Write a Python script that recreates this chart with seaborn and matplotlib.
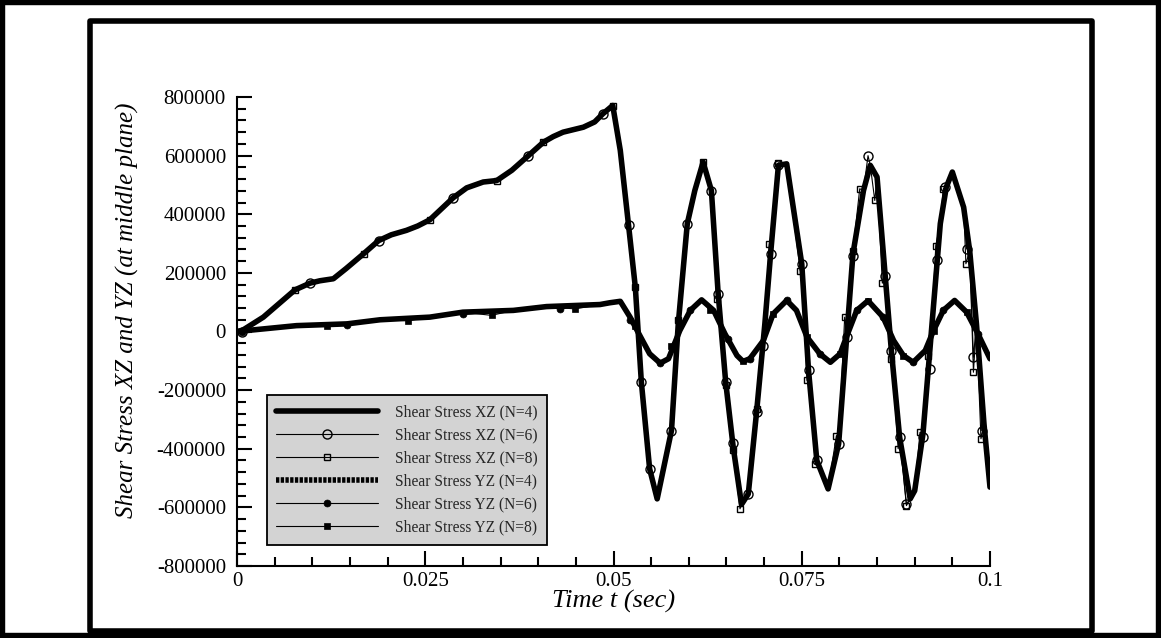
import numpy as np
import matplotlib
matplotlib.use('Agg')
import matplotlib.pyplot as plt
import seaborn as sns
from matplotlib.lines import Line2D
from matplotlib.patches import Rectangle
from matplotlib.ticker import FixedLocator, MultipleLocator

# ---- data ----
xz4_t = [0.0, 0.0006, 0.0035, 0.0077, 0.0097, 0.0110, 0.0128, 0.0145, 0.0168, 0.0188,
         0.0205, 0.0225, 0.0240, 0.0256, 0.0287, 0.0305, 0.0327, 0.0345, 0.0365, 0.0387,
         0.0407, 0.0420, 0.0433, 0.0460, 0.0475, 0.0486, 0.0499,
         0.0509, 0.0520, 0.0529, 0.0537, 0.0548, 0.0558, 0.0577, 0.0586, 0.0598, 0.0608,
         0.0619, 0.0630, 0.0639, 0.0649, 0.0659, 0.0670, 0.0679, 0.0690, 0.0701, 0.0709,
         0.0719, 0.0730, 0.0750, 0.0759, 0.0770, 0.0785, 0.0799, 0.0810, 0.0818, 0.0832,
         0.0841, 0.0850, 0.0861, 0.0869, 0.0880, 0.0894, 0.0900, 0.0911, 0.0923, 0.0934,
         0.0942, 0.0950, 0.0965, 0.0973, 0.0982, 0.0992, 0.1000]
xz4 = [0, 2000, 49000, 142000, 165000, 173000, 180000, 215000, 265000, 310000,
       330000, 345000, 360000, 381000, 456000, 490000, 510000, 515000, 550000, 600000,
       646000, 665000, 680000, 697000, 715000, 743000, 771000,
       618000, 362000, 151000, -173000, -469000, -571000, -338000, 26000, 368000, 481000,
       578000, 481000, 129000, -173000, -395000, -590000, -554000, -275000, 26000, 276000,
       567000, 572000, 231000, -133000, -440000, -537000, -383000, -8000, 265000, 481000,
       567000, 527000, 185000, -65000, -361000, -571000, -543000, -349000, 26000, 368000,
       493000, 544000, 424000, 276000, 26000, -315000, -531000]

# N=6 symbol points (open circles)
xz6_t = [0.0006, 0.0097, 0.0188, 0.0287, 0.0387, 0.0486, 0.0520, 0.0537, 0.0548, 0.0577,
         0.0598, 0.0630, 0.0639, 0.0649, 0.0659, 0.0679, 0.0690, 0.0698, 0.0709, 0.0719,
         0.0750, 0.0759, 0.0770, 0.0799, 0.0810, 0.0818, 0.0838, 0.0861, 0.0869, 0.0880,
         0.0889, 0.0911, 0.0920, 0.0930, 0.0940, 0.0969, 0.0978, 0.0989]
xz6 = [0, 165000, 310000, 456000, 600000, 743000, 362000, -173000, -469000, -338000,
       368000, 481000, 129000, -173000, -382000, -554000, -275000, -48000, 266000, 567000,
       231000, -133000, -440000, -383000, -19000, 256000, 600000, 190000, -65000, -361000,
       -588000, -361000, -127000, 245000, 493000, 282000, -88000, -338000]

# N=8 symbol points (open squares)
xz8_t = [0.0077, 0.0168, 0.0256, 0.0345, 0.0407, 0.0499, 0.0529, 0.0586, 0.0619, 0.0637,
         0.0649, 0.0659, 0.0668, 0.0690, 0.0707, 0.0719, 0.0748, 0.0757, 0.0768, 0.0796,
         0.0807, 0.0818, 0.0827, 0.0847, 0.0857, 0.0868, 0.0878, 0.0889, 0.0907, 0.0918,
         0.0928, 0.0938, 0.0968, 0.0978, 0.0988]
xz8 = [142000, 265000, 381000, 515000, 646000, 771000, 151000, 38000, 578000, 111000,
       -183000, -405000, -605000, -265000, 300000, 575000, 208000, -167000, -452000, -355000,
       49000, 276000, 487000, 447000, 165000, -93000, -400000, -594000, -344000, -82000,
       293000, 487000, 231000, -139000, -366000]

yz4_t = [0.0, 0.0079, 0.0146, 0.0190, 0.0256, 0.0300, 0.0367, 0.0411, 0.0482, 0.0495,
         0.0509, 0.0522, 0.0535, 0.0548, 0.0562, 0.0573, 0.0588, 0.0602, 0.0617, 0.0633,
         0.0648, 0.0664, 0.0672, 0.0681, 0.0699, 0.0712, 0.0730, 0.0743, 0.0757, 0.0774,
         0.0788, 0.0801, 0.0810, 0.0823, 0.0838, 0.0858, 0.0872, 0.0885, 0.0898, 0.0914,
         0.0925, 0.0938, 0.0953, 0.0969, 0.0984, 0.1000]
yz4 = [0, 20000, 26000, 40000, 49000, 66000, 72000, 85000, 92000, 98000,
       103000, 49000, -14000, -76000, -108000, -93000, 3000, 72000, 108000, 72000,
       -8000, -82000, -102000, -93000, -31000, 60000, 106000, 72000, -19000, -76000,
       -105000, -76000, -14000, 72000, 105000, 49000, -31000, -82000, -105000, -65000,
       3000, 72000, 106000, 66000, -8000, -93000]

yz6_t = [0.0006, 0.0146, 0.0300, 0.0429, 0.0522, 0.0562, 0.0602, 0.0652, 0.0681, 0.0730,
         0.0774, 0.0823, 0.0858, 0.0898, 0.0938, 0.0984]
yz6 = [0, 22000, 58000, 77000, 40000, -108000, 72000, -25000, -93000, 106000,
       -76000, 72000, 49000, -105000, 72000, -8000]

yz8_t = [0.0119, 0.0227, 0.0338, 0.0449, 0.0529, 0.0577, 0.0628, 0.0672, 0.0712, 0.0757,
         0.0801, 0.0838, 0.0885, 0.0925, 0.0969]
yz8 = [18000, 37000, 55000, 77000, 20000, -48000, 72000, -102000, 60000, -19000,
       -76000, 105000, -82000, 3000, 66000]

x_ticks = [0, 0.025, 0.05, 0.075, 0.1]
x_tick_labels = ['0', '0.025', '0.05', '0.075', '0.1']
y_ticks = [-800000, -600000, -400000, -200000, 0, 200000, 400000, 600000, 800000]
y_tick_labels = ['-800000', '-600000', '-400000', '-200000', '0',
                 '200000', '400000', '600000', '800000']

labels = ['Shear Stress XZ (N=4)', 'Shear Stress XZ (N=6)', 'Shear Stress XZ (N=8)',
          'Shear Stress YZ (N=4)', 'Shear Stress YZ (N=6)', 'Shear Stress YZ (N=8)']


def merge(base_t, base_v, mk_t, mk_v):
    # thin curve follows the base curve, symbols sit on their own points
    t = np.concatenate([base_t, mk_t])
    v = np.concatenate([base_v, mk_v])
    flag = np.r_[np.zeros(len(base_t)), np.ones(len(mk_t))].astype(bool)
    order = np.argsort(t, kind='stable')
    return t[order], v[order], list(flag[order])


sns.set_theme(style='white')
plt.rcParams['font.family'] = ['Liberation Serif', 'DejaVu Serif']
plt.rcParams['axes.unicode_minus'] = False

W, H = 1161, 638
fig = plt.figure(figsize=(W / 100, H / 100), dpi=100)
ax = fig.add_axes([237 / W, 72 / H, 753 / W, 469 / H])
ax.set_facecolor('none')

thick = dict(color='black', linewidth=4.0, solid_joinstyle='round', solid_capstyle='round')
thin = dict(color='black', linewidth=0.8)
sty = [
    dict(thick),
    dict(thin, marker='o', markersize=6.5, markerfacecolor='none', markeredgecolor='black', markeredgewidth=1.0),
    dict(thin, marker='s', markersize=5, markerfacecolor='none', markeredgecolor='black', markeredgewidth=1.0),
    dict(thick),
    dict(thin, marker='o', markersize=5, markerfacecolor='black', markeredgecolor='black', markeredgewidth=0.5),
    dict(thin, marker='s', markersize=4.5, markerfacecolor='black', markeredgecolor='black', markeredgewidth=0.5),
]

sns.lineplot(x=xz4_t, y=xz4, ax=ax, sort=False, estimator=None, legend=False, **sty[0])
t, v, m = merge(xz4_t, xz4, xz6_t, xz6)
sns.lineplot(x=t, y=v, ax=ax, sort=False, estimator=None, legend=False, markevery=m, **sty[1])
t, v, m = merge(xz4_t, xz4, xz8_t, xz8)
sns.lineplot(x=t, y=v, ax=ax, sort=False, estimator=None, legend=False, markevery=m, **sty[2])
sns.lineplot(x=yz4_t, y=yz4, ax=ax, sort=False, estimator=None, legend=False, **sty[3])
t, v, m = merge(yz4_t, yz4, yz6_t, yz6)
sns.lineplot(x=t, y=v, ax=ax, sort=False, estimator=None, legend=False, markevery=m, **sty[4])
t, v, m = merge(yz4_t, yz4, yz8_t, yz8)
sns.lineplot(x=t, y=v, ax=ax, sort=False, estimator=None, legend=False, markevery=m, **sty[5])

ax.set_xlim(0, 0.1)
ax.set_ylim(-800000, 800000)
ax.xaxis.set_major_locator(FixedLocator(x_ticks))
ax.set_xticklabels(x_tick_labels)
ax.yaxis.set_major_locator(FixedLocator(y_ticks))
ax.set_yticklabels(y_tick_labels)
ax.xaxis.set_minor_locator(MultipleLocator(0.005))
ax.yaxis.set_minor_locator(MultipleLocator(40000))
ax.tick_params(which='both', direction='in', width=1.5, color='black',
               bottom=True, left=True, top=False, right=False)
ax.tick_params(which='major', length=10.5, labelsize=15, labelcolor='black')
ax.tick_params(axis='y', which='major', pad=8)
ax.tick_params(axis='x', which='major', pad=4)
ax.tick_params(which='minor', length=6.5)
for side in ['top', 'right']:
    ax.spines[side].set_visible(False)
for side in ['left', 'bottom']:
    ax.spines[side].set_color('black')
    ax.spines[side].set_linewidth(1.5)

ax.set_xlabel('Time t (sec)', fontsize=19, style='italic', color='black')
ax.xaxis.set_label_coords(0.5, -0.05)
ax.set_ylabel('Shear Stress XZ and YZ (at middle plane)', fontsize=18, style='italic', color='black')
ax.yaxis.set_label_coords(-0.13, 0.545)

# legend: the YZ (N=4) key is drawn as a heavy dotted line, as in the reference
handles = [Line2D([], [], **s) for s in sty]
handles[3] = Line2D([], [], color='black', linewidth=4.0, linestyle=(0, (0.6, 0.25)))
leg = ax.legend(handles, labels, loc='lower left', bbox_to_anchor=(0.04, 0.045),
                fontsize=11.2, frameon=True, fancybox=False, facecolor='#d3d3d3',
                edgecolor='black', framealpha=1, handlelength=6.5, handletextpad=1.1,
                labelspacing=0.45, borderpad=0.6, borderaxespad=0)
leg.get_frame().set_linewidth(1.3)

# outer frame and inner rounded box
fig.add_artist(Rectangle((0, 0), 1, 1, transform=fig.transFigure, fill=False,
                         edgecolor='black', linewidth=7.5))
fig.add_artist(Rectangle((90 / W, (H - 631) / H), (1092 - 90) / W, (631 - 21) / H,
                         transform=fig.transFigure, fill=False, edgecolor='black',
                         linewidth=4, joinstyle='round'))

fig.savefig('out.png', dpi=100)
